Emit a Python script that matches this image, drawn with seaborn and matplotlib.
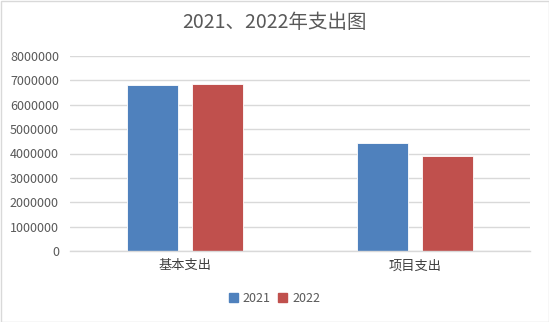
import matplotlib
matplotlib.use("Agg")
import matplotlib.pyplot as plt
import seaborn as sns
import pandas as pd
from matplotlib.patches import Rectangle

categories = ["基本支出", "项目支出"]
years = ["2021", "2022"]
values_2021 = [6800000, 4420000]
values_2022 = [6850000, 3880000]
yticks = [0, 1000000, 2000000, 3000000, 4000000, 5000000, 6000000, 7000000, 8000000]

df = pd.DataFrame({
    "category": categories * 2,
    "year": [years[0]] * 2 + [years[1]] * 2,
    "value": values_2021 + values_2022,
})

sns.set_theme(style="white")
plt.rcParams['font.family'] = ['Noto Sans CJK SC', 'DejaVu Sans']

fig = plt.figure(figsize=(5.49, 3.22), dpi=100)
ax = fig.add_axes([70/549, 1-251/322, 460/549, 195/322])

palette = {"2021": "#4F81BD", "2022": "#C0504D"}
sns.barplot(data=df, x="category", y="value", hue="year", palette=palette,
            width=0.57, gap=0.22, ax=ax, legend=False, saturation=1,
            edgecolor="#ffffff", linewidth=0.6)

ax.set_xlim(-0.5, 1.5)
ax.set_ylim(0, 8000000)
ax.set_yticks(yticks)
ax.set_yticklabels([str(v) for v in yticks])
ax.yaxis.grid(True, color="#d9d9d9", linewidth=1)
ax.set_axisbelow(True)
for s in ["top", "right", "left"]:
    ax.spines[s].set_visible(False)
ax.spines["bottom"].set_color("#d9d9d9")
ax.spines["bottom"].set_linewidth(1)
ax.set_xlabel("")
ax.set_ylabel("")
ax.tick_params(axis="y", labelsize=9, colors="#595959", length=0, pad=8)
ax.tick_params(axis="x", labelsize=9.5, colors="#404040", length=0, pad=6)

fig.text(0.5, 1-22/322, "2021、2022年支出图", ha="center", va="center",
         fontsize=14, color="#595959")

handles = [Rectangle((0, 0), 1, 1, color=palette[y]) for y in years]
fig.legend(handles, years, loc="center", bbox_to_anchor=(0.5, 1-298/322),
           ncol=2, frameon=False, fontsize=9, handlelength=0.7, handleheight=0.7,
           handletextpad=0.4, columnspacing=0.6, labelcolor="#595959")

border = Rectangle((0.5/549, 0.5/322), 1-1/549, 1-1/322, transform=fig.transFigure,
                   fill=False, edgecolor="#d9d9d9", linewidth=1)
fig.patches.append(border)

fig.savefig("out.png", dpi=100, facecolor="white")
